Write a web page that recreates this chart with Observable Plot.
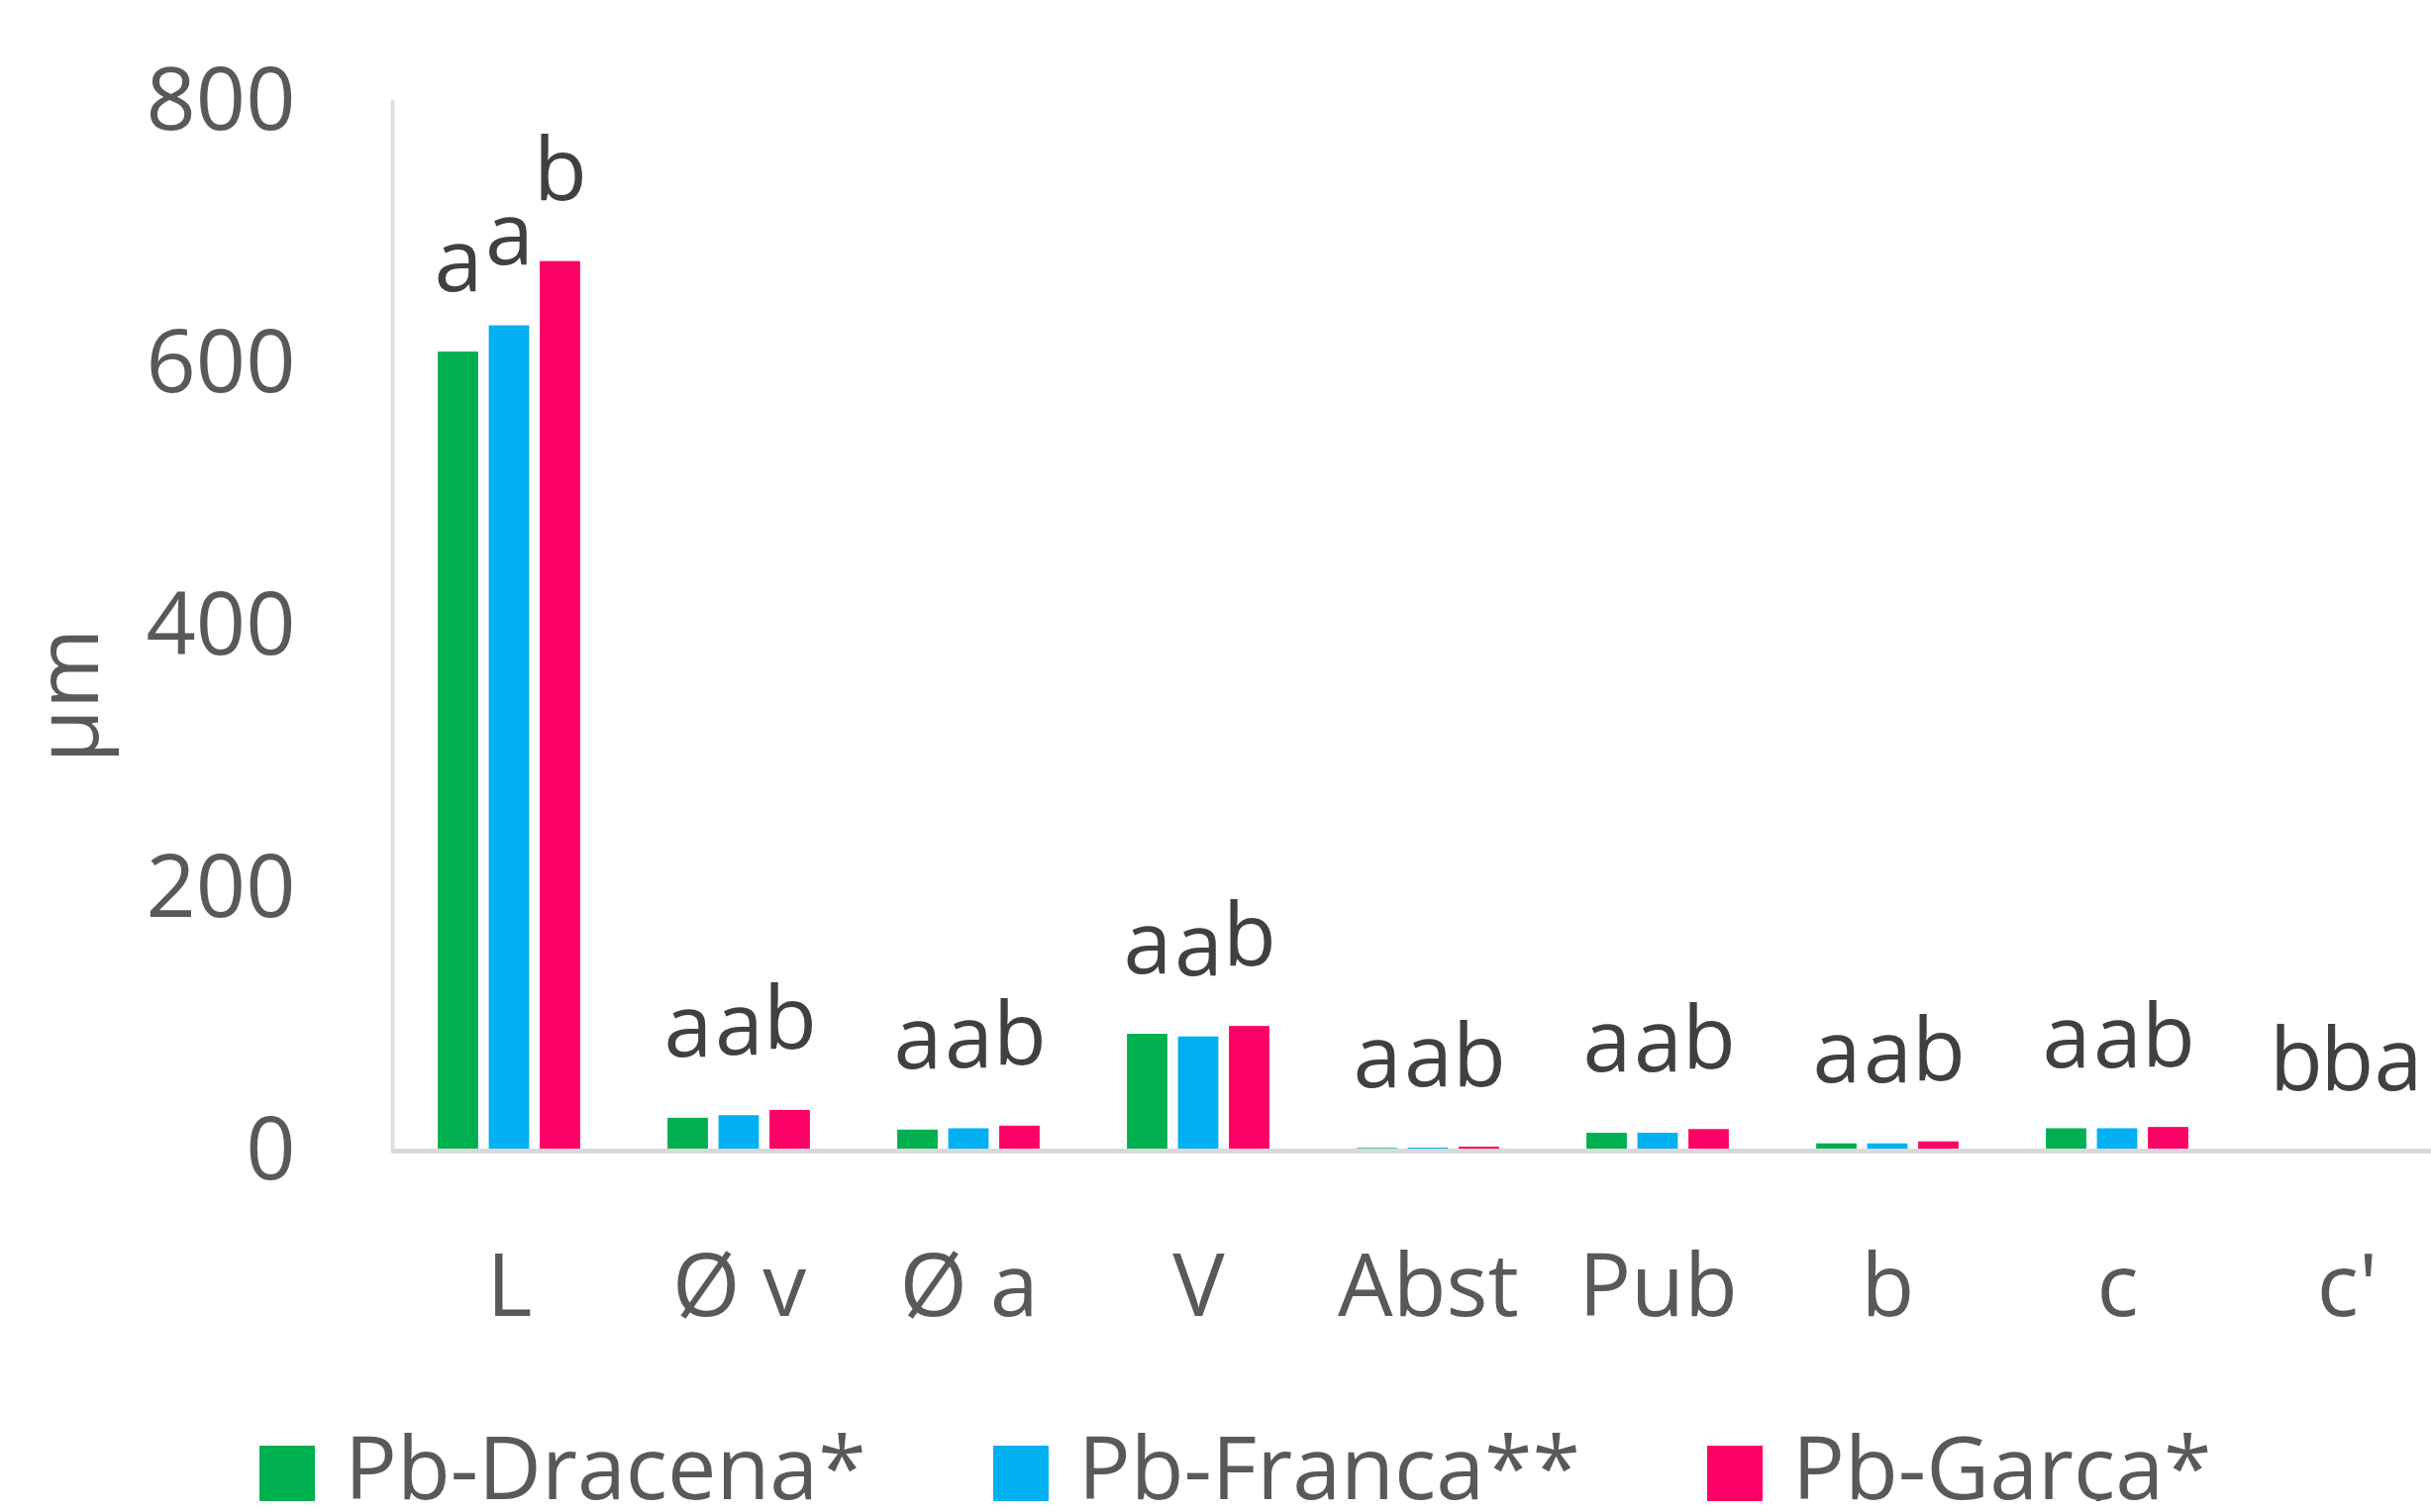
<!DOCTYPE html>
<html>
<head>
<meta charset="utf-8">
<script src="https://cdn.jsdelivr.net/npm/d3@7"></script>
<script src="https://cdn.jsdelivr.net/npm/@observablehq/plot@0.6"></script>
<style>
  html, body { margin: 0; padding: 0; background: white; overflow: hidden; }
  #chart svg { display: block; }
  .legend { display: flex; align-items: center; gap: 128px; padding-left: 262px; margin-top: 80px; height: 56px;
            font-family: "Open Sans", sans-serif; font-size: 88px; color: #595959; white-space: nowrap; }
  .legend .item { display: flex; align-items: center; gap: 30px; }
  .legend .sw { width: 56px; height: 56px; flex: none; }
  .legend .lab { line-height: 56px; position: relative; top: -8px; }
</style>
</head>
<body>
<div id="chart"></div>
<div class="legend" id="legend"></div>
<script>
const categories = ["L", "Ø v", "Ø a", "V", "Abst", "Pub", "b", "c", "c'"];
const series = ["Pb-Dracena*", "Pb-Franca**", "Pb-Garça*"];
const colors = ["#00B050", "#00B0F0", "#FF0066"];
const dracena = [609, 25, 16, 89, 2, 13.6, 5.5, 17, 0];
const franca  = [629, 27, 17, 87, 2.3, 13.6, 5.5, 17, 0];
const garca   = [678, 31, 19, 95, 3, 16.4, 7, 18, 0];
const lettersDracena = ["a", "a", "a", "a", "a", "a", "a", "a", "b"];
const lettersFranca  = ["a", "a", "a", "a", "a", "a", "a", "a", "b"];
const lettersGarca   = ["b", "b", "b", "b", "b", "b", "b", "b", "a"];
const yTicks = [0, 200, 400, 600, 800];

const values = [dracena, franca, garca];
const letters = [lettersDracena, lettersFranca, lettersGarca];
const data = categories.flatMap((c, i) => series.map((s, j) => ({cat: c, series: s, value: values[j][i], letter: letters[j][i]})));

const offsets = [-51.5, 0, 51.5];
const inset = 95.6;
const font = "'Open Sans', sans-serif";

const chart = Plot.plot({
  width: 2455,
  height: 1380,
  marginLeft: 396,
  marginRight: -32,
  marginTop: 102,
  marginBottom: 218,
  style: {fontFamily: font, fontSize: "88px", color: "#595959", background: "white"},
  x: {domain: categories, padding: 0},
  y: {domain: [0, 800]},
  color: {domain: series, range: colors},
  marks: [
    Plot.frame({anchor: "left", stroke: "#e0e0e0", strokeWidth: 4}),
    Plot.axisY({ticks: yTicks, tickSize: 0, tickPadding: 98, fontSize: 88, fill: "#595959", label: null}),
    Plot.axisX({tickSize: 0, tickPadding: 104, fontSize: 88, fill: "#595959", label: null}),
    ...series.map((s, j) => Plot.barY(data.filter(d => d.series === s), {
      x: "cat", y: "value", fill: "series", dx: offsets[j], insetLeft: inset, insetRight: inset
    })),
    ...series.map((s, j) => Plot.text(data.filter(d => d.series === s), {
      x: "cat", y: "value", text: "letter", dx: offsets[j], dy: -62, lineAnchor: "bottom",
      fontSize: 88, fill: "#404040"
    })),
    Plot.ruleY([0], {stroke: "#d9d9d9", strokeWidth: 5}),
    Plot.text(["µm"], {frameAnchor: "left", text: d => d, rotate: -90, dx: -326, dy: 138, fontSize: 88, fill: "#595959"})
  ]
});
document.getElementById("chart").appendChild(chart);

const legend = document.getElementById("legend");
series.forEach((s, j) => {
  const item = document.createElement("div");
  item.className = "item";
  const sw = document.createElement("div");
  sw.className = "sw";
  sw.style.background = colors[j];
  const lab = document.createElement("span");
  lab.className = "lab";
  lab.textContent = s;
  item.appendChild(sw);
  item.appendChild(lab);
  legend.appendChild(item);
});
</script>
</body>
</html>
